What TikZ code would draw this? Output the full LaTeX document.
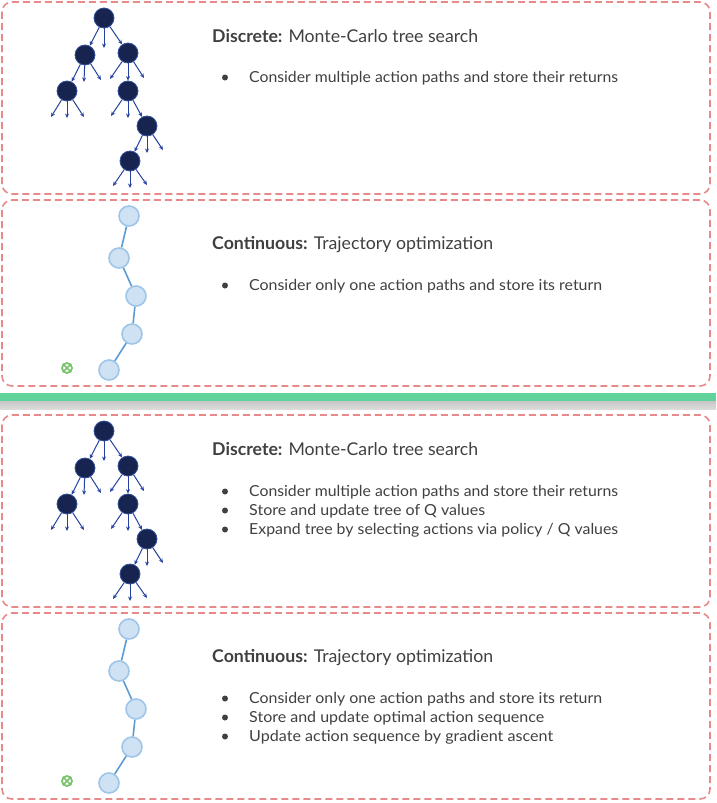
\documentclass[tikz,border=0pt]{standalone}
\usepackage{fontspec}
\usepackage{graphicx}
\setmainfont{Lato}
\usetikzlibrary{arrows.meta}
\definecolor{boxred}{HTML}{E8898A}
\definecolor{navy}{HTML}{16244F}
\definecolor{navyedge}{HTML}{34509A}
\definecolor{arrowblue}{HTML}{2642A0}
\definecolor{chainfill}{HTML}{CFE2F3}
\definecolor{chainedge}{HTML}{9FC5E8}
\definecolor{chainline}{HTML}{5B9BD5}
\definecolor{crossgreen}{HTML}{7DC36F}
\definecolor{bandgreen}{HTML}{5FD39A}
\definecolor{txt}{HTML}{404040}
\newcommand\fitw[2]{\resizebox{#1pt}{\height}{#2}}
\tikzset{
  dbox/.style={draw=boxred, line width=1.6pt, dash pattern=on 7pt off 4pt, rounded corners=10pt},
  tnode/.style={circle, fill=navy, draw=navyedge, line width=0.8pt, minimum size=20pt, inner sep=0pt},
  tarrow/.style={draw=arrowblue, line width=1pt, -{Stealth[length=4.5pt,width=4pt]}},
  cnode/.style={circle, fill=chainfill, draw=chainedge, line width=1.6pt, minimum size=20pt, inner sep=0pt},
  cline/.style={draw=chainline, line width=1.6pt},
  htext/.style={anchor=base west, inner sep=0pt, text=txt, font=\fontsize{17.6}{20}\selectfont},
  btext/.style={anchor=base west, inner sep=0pt, text=txt, font=\fontsize{15.2}{18}\selectfont},
  bdot/.style={circle, fill=txt, minimum size=6pt, inner sep=0pt},
  xmark/.style={circle, draw=crossgreen, line width=1.8pt, minimum size=10pt, inner sep=0pt},
}
\newcommand\mytree[2]{%
\begin{scope}[shift={(0,#1)}]
\node[tnode] (#2r) at (104,18) {};
\node[tnode] (#2a) at (85,55) {};
\node[tnode] (#2b) at (128,53) {};
\node[tnode] (#2c) at (67,91) {};
\node[tnode] (#2d) at (128,91) {};
\node[tnode] (#2e) at (147,126) {};
\node[tnode] (#2f) at (130,161) {};
\coordinate (#2r1) at (104,48);
\coordinate (#2a1) at (84,82);
\coordinate (#2a2) at (101,80);
\coordinate (#2b1) at (110,79);
\coordinate (#2b2) at (144,78);
\coordinate (#2c1) at (51,117);
\coordinate (#2c2) at (67,118);
\coordinate (#2c3) at (84,117);
\coordinate (#2d1) at (111,116);
\coordinate (#2d2) at (128,118);
\coordinate (#2e1) at (147,153);
\coordinate (#2e2) at (163,150);
\coordinate (#2f1) at (113,186);
\coordinate (#2f2) at (130,188);
\coordinate (#2f3) at (147,185);
\draw[tarrow] (#2r) -- (#2a);
\draw[tarrow] (#2r) -- (#2r1);
\draw[tarrow] (#2r) -- (#2b);
\draw[tarrow] (#2a) -- (#2c);
\draw[tarrow] (#2a) -- (#2a1);
\draw[tarrow] (#2a) -- (#2a2);
\draw[tarrow] (#2b) -- (#2b1);
\draw[tarrow] (#2b) -- (#2d);
\draw[tarrow] (#2b) -- (#2b2);
\draw[tarrow] (#2c) -- (#2c1);
\draw[tarrow] (#2c) -- (#2c2);
\draw[tarrow] (#2c) -- (#2c3);
\draw[tarrow] (#2d) -- (#2d1);
\draw[tarrow] (#2d) -- (#2d2);
\draw[tarrow] (#2d) -- (#2e);
\draw[tarrow] (#2e) -- (#2f);
\draw[tarrow] (#2e) -- (#2e1);
\draw[tarrow] (#2e) -- (#2e2);
\draw[tarrow] (#2f) -- (#2f1);
\draw[tarrow] (#2f) -- (#2f2);
\draw[tarrow] (#2f) -- (#2f3);
\end{scope}}
\newcommand\mychain[2]{%
\begin{scope}[shift={(0,#1)}]
\node[cnode] (#2a) at (129,216) {};
\node[cnode] (#2b) at (119,258) {};
\node[cnode] (#2c) at (136,296) {};
\node[cnode] (#2d) at (132,334) {};
\node[cnode] (#2e) at (109,370) {};
\draw[cline] (#2a) -- (#2b);
\draw[cline] (#2b) -- (#2c);
\draw[cline] (#2c) -- (#2d);
\draw[cline] (#2d) -- (#2e);
\node[xmark] (#2x) at (67,368) {};
\draw[draw=crossgreen, line width=1.6pt] (#2x.north east) -- (#2x.south west);
\draw[draw=crossgreen, line width=1.6pt] (#2x.north west) -- (#2x.south east);
\end{scope}}
\begin{document}
\begin{tikzpicture}[x=1pt,y=-1pt]
\useasboundingbox (0,0) rectangle (716,803);
% boxes
\draw[dbox] (2,2) rectangle (710,194);
\draw[dbox] (2,200) rectangle (710,386);
\draw[dbox] (2,415) rectangle (710,607);
\draw[dbox] (2,613) rectangle (710,799);
% separator
\fill[top color=black!22, bottom color=black!14] (0,401) rectangle (716,409);
\fill[bandgreen] (0,393) rectangle (716,401);
% trees and chains
\mytree{0}{ta}
\mytree{413}{tb}
\mychain{0}{ca}
\mychain{413}{cb}
% texts box 1
\node[htext] (h1) at (212,42) {\fitw{266}{\textbf{Discrete:} Monte-Carlo tree search}};
\node[bdot] (d1a) at (225,77.5) {};
\node[btext] (b1a) at (249,82) {\fitw{369}{Consider multiple action paths and store their returns}};
% box 2
\node[htext] (h2) at (212,249) {\fitw{281}{\textbf{Continuous:} Trajectory optimization}};
\node[bdot] (d2a) at (225,285.5) {};
\node[btext] (b2a) at (249,290) {\fitw{353}{Consider only one action paths and store its return}};
% box 3
\node[htext] (h3) at (212,455) {\fitw{266}{\textbf{Discrete:} Monte-Carlo tree search}};
\node[bdot] (d3a) at (225,491.5) {};
\node[btext] (b3a) at (249,496) {\fitw{369}{Consider multiple action paths and store their returns}};
\node[bdot] (d3b) at (225,510.5) {};
\node[btext] (b3b) at (249,515) {\fitw{236}{Store and update tree of Q values}};
\node[bdot] (d3c) at (225,529.5) {};
\node[btext] (b3c) at (249,534) {\fitw{369}{Expand tree by selecting actions via policy / Q values}};
% box 4
\node[htext] (h4) at (212,662) {\fitw{281}{\textbf{Continuous:} Trajectory optimization}};
\node[bdot] (d4a) at (225,698.5) {};
\node[btext] (b4a) at (249,703) {\fitw{353}{Consider only one action paths and store its return}};
\node[bdot] (d4b) at (225,717.5) {};
\node[btext] (b4b) at (249,722) {\fitw{295}{Store and update optimal action sequence}};
\node[bdot] (d4c) at (225,736.5) {};
\node[btext] (b4c) at (249,741) {\fitw{304}{Update action sequence by gradient ascent}};
\end{tikzpicture}
\end{document}
